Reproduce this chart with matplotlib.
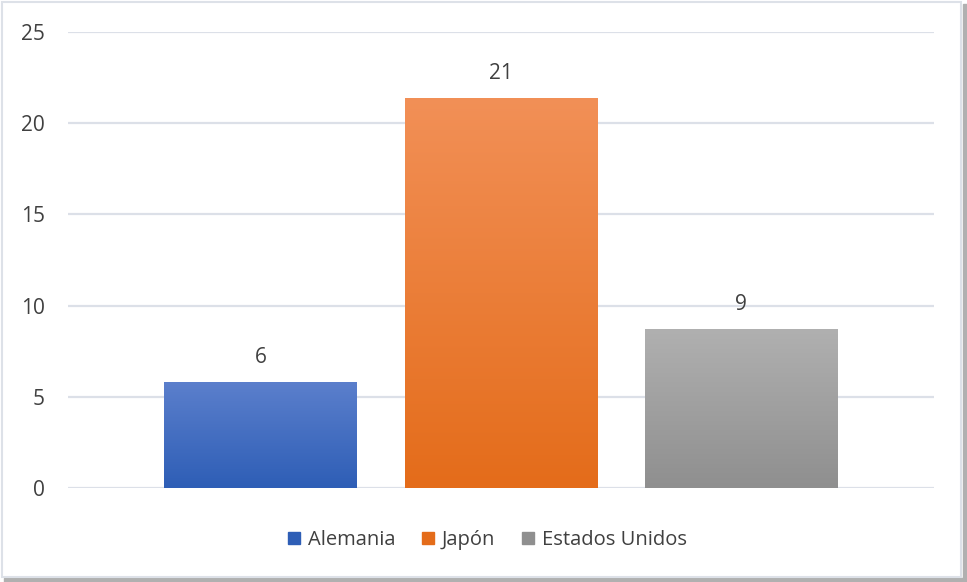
import numpy as np
import matplotlib
matplotlib.use("Agg")
import matplotlib.pyplot as plt
from matplotlib.colors import LinearSegmentedColormap
from matplotlib.patches import Rectangle

categories = ["Alemania", "Japón", "Estados Unidos"]
values = [5.8, 21.4, 8.7]
yticks = [0, 5, 10, 15, 20, 25]
# top / bottom colours of each bar's vertical gradient
grad_top = ["#5B7FCC", "#F29057", "#B0B0B0"]
grad_bottom = ["#2E5EB6", "#E46C1A", "#8F8F8F"]

plt.rcParams["font.family"] = ["Open Sans", "DejaVu Sans"]

fig = plt.figure(figsize=(9.67, 5.82), dpi=100)
ax = fig.add_axes([0.0703, 0.1615, 0.8956, 0.7835])

ax.set_ylim(0, 25)
ax.set_xlim(-0.804, 2.804)
ax.set_yticks(yticks)
ax.set_yticklabels([str(t) for t in yticks])
ax.yaxis.grid(True, color="#DCE0E8", linewidth=1.6)
ax.set_axisbelow(True)
for s in ax.spines.values():
    s.set_visible(False)
ax.set_xticks([])
ax.tick_params(axis="y", length=0, pad=16.5, labelsize=15, labelcolor="#404040")

width = 0.804
bars = ax.bar(range(len(values)), values, width=width, color=grad_bottom,
              edgecolor="none", zorder=2, label=None)

for i, (bar, v) in enumerate(zip(bars, values)):
    cmap = LinearSegmentedColormap.from_list(f"g{i}", [grad_bottom[i], grad_top[i]])
    x0 = bar.get_x()
    grad = np.linspace(0, 1, 256).reshape(-1, 1)
    im = ax.imshow(grad, cmap=cmap, origin="lower", aspect="auto",
                   extent=(x0, x0 + bar.get_width(), 0, v), zorder=3)
    im.set_clip_path(bar)
    ax.annotate(f"{v:.0f}", (bar.get_x() + bar.get_width() / 2, v),
                xytext=(0, 10), textcoords="offset points", ha="center",
                va="bottom", fontsize=15, color="#404040")

ax.set_xlim(-0.804, 2.804)
ax.set_ylim(0, 25)

handles = [Rectangle((0, 0), 1, 1, color=grad_bottom[i]) for i in range(len(categories))]
fig.legend(handles, categories, loc="center", bbox_to_anchor=(0.504, 0.072),
           ncol=3, frameon=False, fontsize=14.5, handlelength=0.6, handleheight=0.6,
           handletextpad=0.4, columnspacing=1.3, labelcolor="#404040")

# chart frame with drop shadow
fig.patches.append(Rectangle((0.996, 0.0), 0.004, 0.993, transform=fig.transFigure,
                             color="#B0B0B0", zorder=0))
fig.patches.append(Rectangle((0.004, 0.0), 0.996, 0.007, transform=fig.transFigure,
                             color="#B0B0B0", zorder=0))
fig.patches.append(Rectangle((0.002, 0.008), 0.992, 0.988, transform=fig.transFigure,
                             fill=False, edgecolor="#DDE1E8", linewidth=1.5, zorder=0))

fig.savefig("out.png", dpi=100)
